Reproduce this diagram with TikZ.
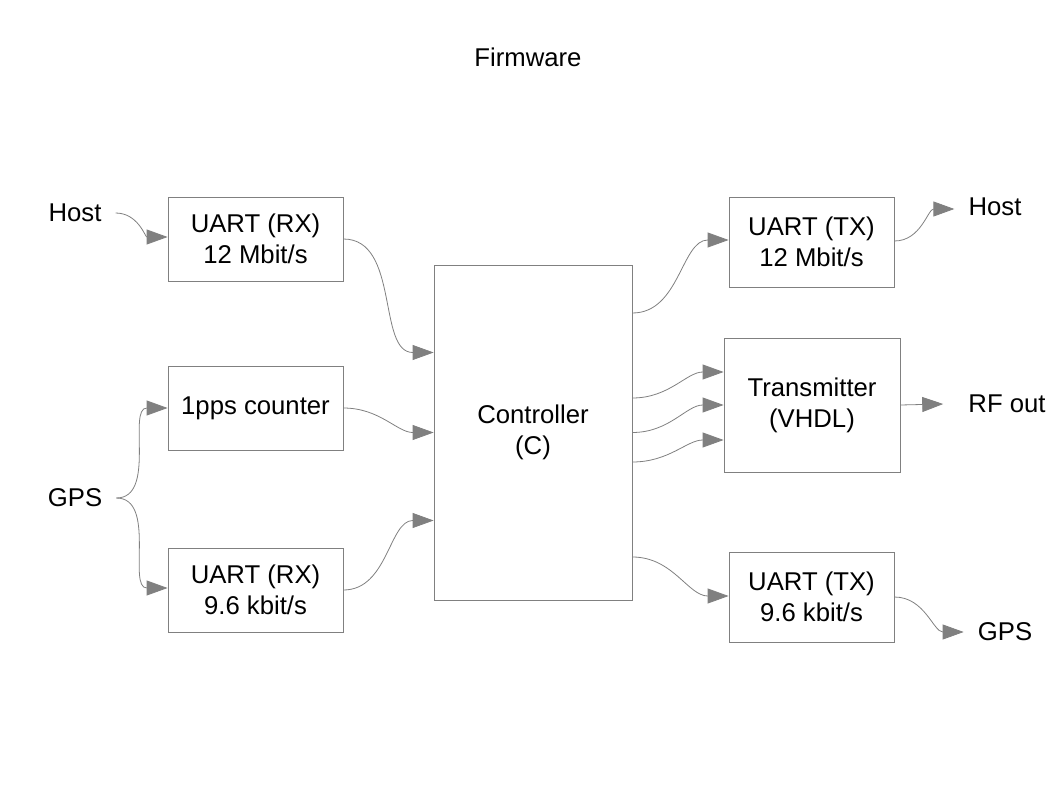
\documentclass[tikz,border=0pt]{standalone}
\usepackage{fontspec}
\setmainfont{Liberation Sans}
\usetikzlibrary{
  arrows.meta,
  calc,
  positioning,
}
\definecolor{edgegrey}{RGB}{128,128,128}
\tikzstyle{block} = [
  rectangle,
  draw=edgegrey,
  line width=0.8bp,
  inner sep=0pt,
  align=center,
]
\tikzstyle{port} = [inner xsep=14bp, inner ysep=0pt]
\tikzstyle{link} = [
  -{Triangle[length=21bp,width=15bp]},
  line width=0.8bp,
  edgegrey,
]

\begin{document}
\begin{tikzpicture}[x=1bp,y=-1bp,font=\fontsize{25.8}{31}\selectfont]
      \useasboundingbox (0,0) rectangle (1058,794);

      \node (title) at (528,57) {Firmware};

      % inputs
      \node[block,minimum width=175bp,minimum height=84bp] (rxhost) at (255.5,239) {UART (RX)\\12 Mbit/s};
      \node[block,minimum width=175bp,minimum height=84bp] (pps)    at (255.5,408) {1pps counter};
      \node[block,minimum width=175bp,minimum height=84bp] (rxgps)  at (255.5,590) {UART (RX)\\9.6 kbit/s};

      \node[port] (hostin) at (75,213) {Host};
      \node[port] (gpsin)  at (75,498) {GPS};

      \node[block,minimum width=198bp,minimum height=335bp] (ctrl) at (533,432.5) {Controller\\(C)};

      % outputs
      \node[block,minimum width=165bp,minimum height=90bp]  (txhost) at (811.5,242) {UART (TX)\\12 Mbit/s};
      \node[block,minimum width=176bp,minimum height=134bp] (trans)  at (812,405)   {Transmitter\\(VHDL)};
      \node[block,minimum width=165bp,minimum height=90bp]  (txgps)  at (811.5,597) {UART (TX)\\9.6 kbit/s};

      \node[port] (hostout) at (995,207) {Host};
      \node[port,inner xsep=25bp] (rfout) at (1007,404) {RF out};
      \node[port] (gpsout)  at (1005,632) {GPS};

      \draw[link] (hostin.east) to[out=0,in=180] ($(rxhost.west)+(0,-2)$);
      \draw[link] (gpsin.east)  to[out=0,in=180] (pps.west);
      \draw[link] (gpsin.east)  to[out=0,in=180] ($(rxgps.west)+(0,-2)$);

      \draw[link] (rxhost.east) to[out=0,in=180] ($(ctrl.west)+(0,-80)$);
      \draw[link] (pps.east)    to[out=0,in=180] (ctrl.west);
      \draw[link] (rxgps.east)  to[out=0,in=180] ($(ctrl.west)+(0,88)$);

      \draw[link] ($(ctrl.east)+(0,-119.5)$) to[out=0,in=180] ($(txhost.west)+(0,-2)$);
      \foreach \a/\b in {-34.5/-33, 0/0, 29.5/35}
        \draw[link] ($(ctrl.east)+(0,\a)$) to[out=0,in=180] ($(trans.west)+(0,\b)$);
      \draw[link] ($(ctrl.east)+(0,124.5)$) to[out=0,in=180] ($(txgps.west)+(0,-1)$);

      \draw[link] ($(txhost.east)+(0,-1)$) to[out=0,in=180] ($(hostout.west)+(0,2)$);
      \draw[link] (trans.east) -- (rfout.west);
      \draw[link] (txgps.east) to[out=0,in=180] (gpsout.west);

    \end{tikzpicture}
\end{document}
